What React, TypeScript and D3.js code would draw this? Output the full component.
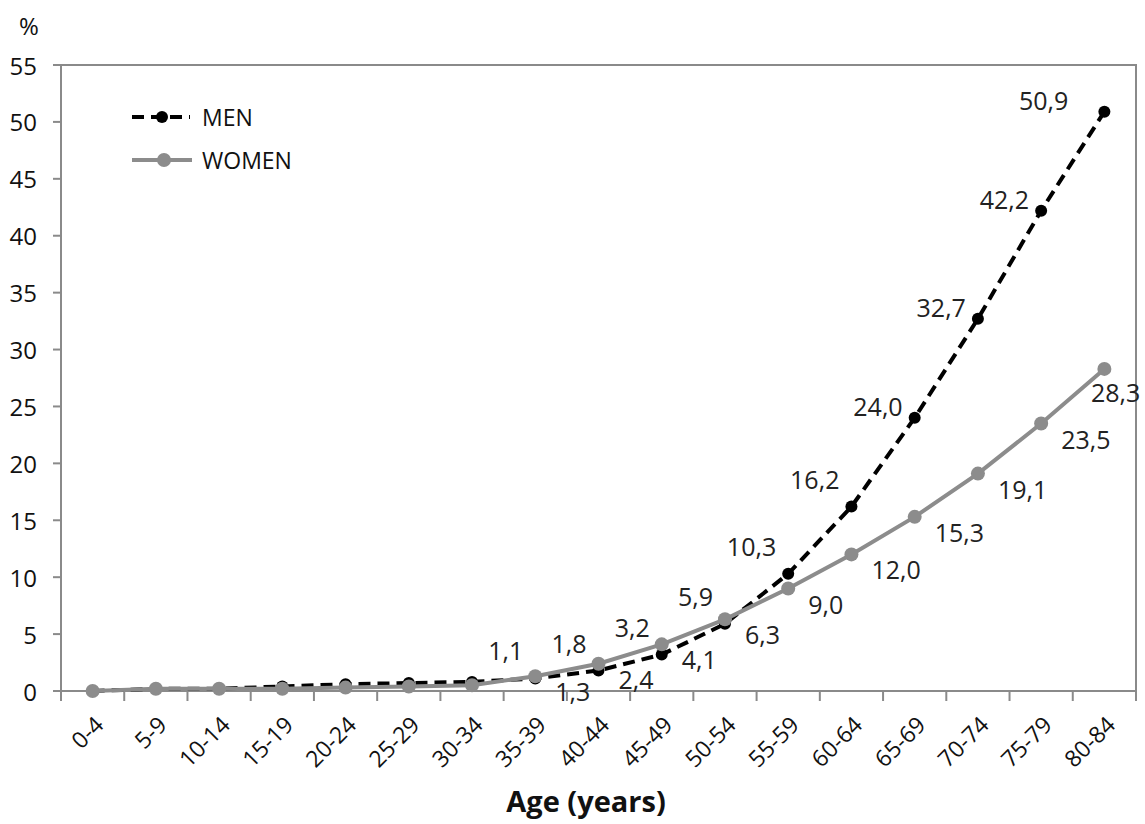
import { scaleBand, scaleLinear, line } from 'd3'

// prevalence (%) by age group
const ageGroups = [
  '0-4', '5-9', '10-14', '15-19', '20-24', '25-29', '30-34', '35-39', '40-44',
  '45-49', '50-54', '55-59', '60-64', '65-69', '70-74', '75-79', '80-84',
]
const men = [0, 0.2, 0.2, 0.4, 0.6, 0.7, 0.8, 1.1, 1.8, 3.2, 5.9, 10.3, 16.2, 24.0, 32.7, 42.2, 50.9]
const women = [0, 0.2, 0.2, 0.2, 0.3, 0.4, 0.5, 1.3, 2.4, 4.1, 6.3, 9.0, 12.0, 15.3, 19.1, 23.5, 28.3]
const yTicks = [0, 5, 10, 15, 20, 25, 30, 35, 40, 45, 50, 55]
const firstLabelled = 7 // values below 35-39 carry no label

const W = 1145
const H = 824
const left = 61
const right = 1136
const top = 65
const bottom = 691

const FONT = '"Open Sans", "Liberation Sans", sans-serif'
const GRID = '#8a8a8a'
const WOMEN_C = '#8c8c8c'

const fmt = (v: number) => v.toFixed(1).replace('.', ',')

export default function App() {
  const x = scaleBand<string>().domain(ageGroups).range([left, right])
  const y = scaleLinear().domain([0, 55]).range([bottom, top])
  const cx = (i: number) => (x(ageGroups[i]) ?? 0) + x.bandwidth() / 2

  const path = line<number>()
    .x((_, i) => cx(i))
    .y((d) => y(d))

  const n = ageGroups.length

  return (
    <svg
      width={W}
      height={H}
      style={{ position: 'absolute', left: 0, top: 0, background: '#fff' }}
      fontFamily={FONT}
    >
      <rect x={0} y={0} width={W} height={H} fill="#fff" />

      {/* y axis ticks + labels */}
      {yTicks.map((t) => (
        <g key={t}>
          <line x1={left - 8} x2={left} y1={y(t)} y2={y(t)} stroke={GRID} strokeWidth={2} />
          <text x={37} y={y(t)} textAnchor="end" dominantBaseline="central" fontSize={24} fill="#111">
            {t}
          </text>
        </g>
      ))}
      <text x={29} y={25} textAnchor="middle" dominantBaseline="central" fontSize={24} fill="#111">
        %
      </text>

      {/* x axis ticks at band edges */}
      {ageGroups.map((g) => (
        <line
          key={g}
          x1={x(g)}
          x2={x(g)}
          y1={bottom}
          y2={bottom + 10}
          stroke={GRID}
          strokeWidth={2}
        />
      ))}
      <line x1={right} x2={right} y1={bottom} y2={bottom + 10} stroke={GRID} strokeWidth={2} />
      {ageGroups.map((g, i) => (
        <text
          key={g}
          transform={`translate(${cx(i) + 6},${bottom + 29}) rotate(-45)`}
          textAnchor="end"
          dominantBaseline="central"
          fontSize={23}
          fill="#111"
        >
          {g}
        </text>
      ))}
      <text x={586} y={812} textAnchor="middle" fontSize={29} fontWeight="bold" fill="#111">
        Age (years)
      </text>

      {/* plot frame */}
      <rect
        x={left}
        y={top}
        width={right - left}
        height={bottom - top}
        fill="none"
        stroke={GRID}
        strokeWidth={2}
      />

      {/* men */}
      <path d={path(men) ?? ''} fill="none" stroke="#000" strokeWidth={4} strokeDasharray="12 7" />
      {men.map((v, i) => (
        <circle key={i} cx={cx(i)} cy={y(v)} r={6} fill="#000" />
      ))}

      {/* women */}
      <path d={path(women) ?? ''} fill="none" stroke={WOMEN_C} strokeWidth={4} />
      {women.map((v, i) => (
        <circle key={i} cx={cx(i)} cy={y(v)} r={7} fill={WOMEN_C} />
      ))}

      {/* data labels */}
      {men.map((v, i) =>
        i < firstLabelled ? null : (
          <text
            key={i}
            x={cx(i) - (i === n - 1 ? 36 : 12)}
            y={y(v) - (i >= 13 ? 12 : 28)}
            textAnchor="end"
            dominantBaseline="central"
            fontSize={25}
            fill="#222"
          >
            {fmt(v)}
          </text>
        ),
      )}
      {women.map((v, i) =>
        i < firstLabelled ? null : (
          <text
            key={i}
            x={i === n - 1 ? cx(i) + 36 : cx(i) + 20}
            y={y(v) + (i === n - 1 ? 23 : 15)}
            textAnchor={i === n - 1 ? 'end' : 'start'}
            dominantBaseline="central"
            fontSize={25}
            fill="#222"
          >
            {fmt(v)}
          </text>
        ),
      )}

      {/* legend */}
      <g>
        <line x1={132} x2={190} y1={117} y2={117} stroke="#000" strokeWidth={4} strokeDasharray="12 7" />
        <circle cx={162} cy={117} r={6} fill="#000" />
        <text x={202} y={117} dominantBaseline="central" fontSize={23} fill="#111">
          MEN
        </text>
        <line x1={132} x2={192} y1={160} y2={160} stroke={WOMEN_C} strokeWidth={4} />
        <circle cx={164} cy={160} r={7} fill={WOMEN_C} />
        <text x={202} y={160} dominantBaseline="central" fontSize={23} fill="#111">
          WOMEN
        </text>
      </g>
    </svg>
  )
}
